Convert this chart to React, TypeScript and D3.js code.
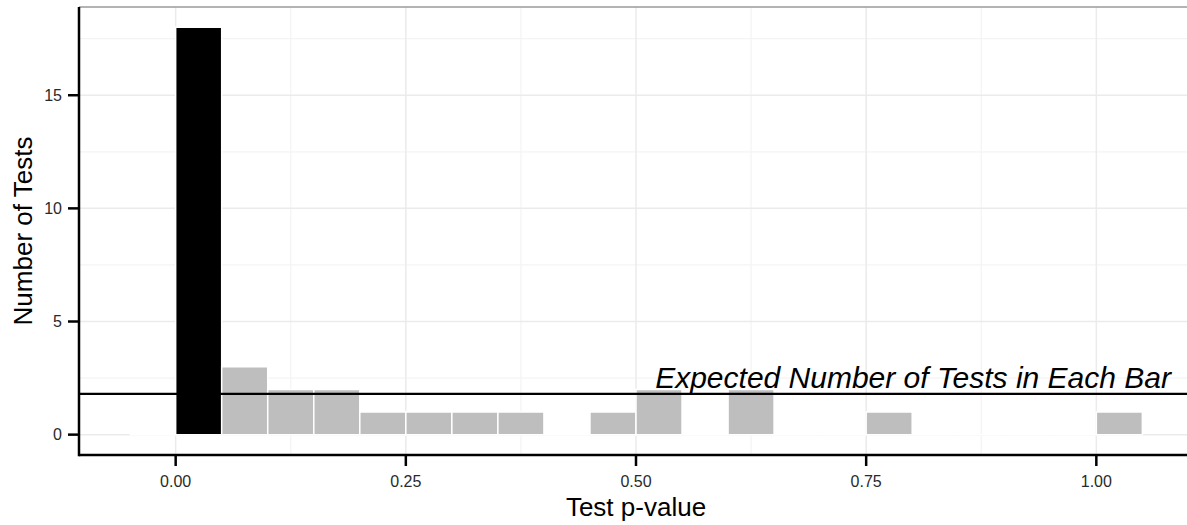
import React from "react";
import * as d3 from "d3";

// Histogram bins (left edge of each 0.05-wide bin) and counts
const binStarts = [-0.05, 0.0, 0.05, 0.1, 0.15, 0.2, 0.25, 0.3, 0.35, 0.4, 0.45, 0.5, 0.55, 0.6, 0.65, 0.7, 0.75, 0.8, 0.85, 0.9, 0.95, 1.0];
const counts = [0, 18, 3, 2, 2, 1, 1, 1, 1, 0, 1, 2, 0, 2, 0, 0, 1, 0, 0, 0, 0, 1];
const binWidth = 0.05;
const significanceCutoff = 0.05;
const expectedCount = 1.8;
const expectedLabel = "Expected Number of Tests in Each Bar";

const xTicks = [0, 0.25, 0.5, 0.75, 1.0];
const xMinorTicks = [-0.125, 0.125, 0.375, 0.625, 0.875, 1.125];
const yTicks = [0, 5, 10, 15];
const yMinorTicks = [2.5, 7.5, 12.5, 17.5];

const W = 1187;
const H = 525;
const FONT = "Liberation Sans, Arial, Helvetica, sans-serif";

export default function App() {
  const left = 79;
  const right = 1193;
  const top = 7;
  const bottom = 455;

  const x = d3.scaleLinear().domain([-0.105, 1.105]).range([left, right]);
  const y = d3.scaleLinear().domain([-0.9, 18.9]).range([bottom, top]);

  const barPath = (x0: number, x1: number, c: number) => {
    const p = d3.path();
    p.moveTo(x(x0), y(0));
    p.lineTo(x(x0), y(c));
    p.lineTo(x(x1), y(c));
    p.lineTo(x(x1), y(0));
    p.closePath();
    return p.toString();
  };

  return (
    <svg width={W} height={H} style={{ position: "absolute", left: 0, top: 0, background: "#fff" }} fontFamily={FONT}>
      <defs>
        <clipPath id="panel">
          <rect x={left} y={top} width={right - left} height={bottom - top} />
        </clipPath>
      </defs>
      <rect x={0} y={0} width={W} height={H} fill="#fff" />
      <g clipPath="url(#panel)">
        {/* minor grid */}
        {xMinorTicks.map((t) => (
          <line key={"xm" + t} x1={x(t)} x2={x(t)} y1={top} y2={bottom} stroke="#f4f4f4" strokeWidth={1.2} />
        ))}
        {yMinorTicks.map((t) => (
          <line key={"ym" + t} x1={left} x2={right} y1={y(t)} y2={y(t)} stroke="#f4f4f4" strokeWidth={1.2} />
        ))}
        {/* major grid */}
        {xTicks.map((t) => (
          <line key={"xg" + t} x1={x(t)} x2={x(t)} y1={top} y2={bottom} stroke="#ebebeb" strokeWidth={1.5} />
        ))}
        {yTicks.map((t) => (
          <line key={"yg" + t} x1={left} x2={right} y1={y(t)} y2={y(t)} stroke="#ebebeb" strokeWidth={1.5} />
        ))}
        {/* bars */}
        {binStarts.map((b, i) => (
          <path
            key={"b" + i}
            d={barPath(b, b + binWidth, counts[i])}
            fill={b < significanceCutoff && b >= 0 ? "#000000" : "#bebebe"}
            stroke="#ffffff"
            strokeWidth={1.5}
          />
        ))}
        {/* expected line */}
        <line x1={left} x2={right} y1={y(expectedCount)} y2={y(expectedCount)} stroke="#000" strokeWidth={2.2} />
        <text
          x={1171}
          y={y(expectedCount) - 6}
          textAnchor="end"
          fontStyle="italic"
          fontSize={30}
          fill="#000"
        >
          {expectedLabel}
        </text>
      </g>
      {/* top border */}
      <line x1={left} x2={W} y1={top} y2={top} stroke="#9a9a9a" strokeWidth={1.6} />
      {/* axes */}
      <line x1={left} x2={W} y1={bottom} y2={bottom} stroke="#000" strokeWidth={2.5} />
      <line x1={left} x2={left} y1={top} y2={bottom + 1.2} stroke="#000" strokeWidth={2.5} />
      {/* x ticks */}
      {xTicks.map((t) => (
        <g key={"xt" + t}>
          <line x1={x(t)} x2={x(t)} y1={bottom} y2={bottom + 11} stroke="#000" strokeWidth={2.5} />
          <text x={x(t)} y={487} textAnchor="middle" fontSize={16} fill="#2a2a2a">
            {d3.format(".2f")(t)}
          </text>
        </g>
      ))}
      {/* y ticks */}
      {yTicks.map((t) => (
        <g key={"yt" + t}>
          <line x1={left - 11} x2={left} y1={y(t)} y2={y(t)} stroke="#000" strokeWidth={2.5} />
          <text x={62} y={y(t)} dy="0.35em" textAnchor="end" fontSize={16} fill="#2a2a2a">
            {t}
          </text>
        </g>
      ))}
      {/* axis titles */}
      <text x={(left + right) / 2} y={516} textAnchor="middle" fontSize={26} fill="#000">
        Test p-value
      </text>
      <text
        transform={`translate(32, ${(top + bottom) / 2}) rotate(-90)`}
        textAnchor="middle"
        fontSize={26}
        fill="#000"
      >
        Number of Tests
      </text>
    </svg>
  );
}
